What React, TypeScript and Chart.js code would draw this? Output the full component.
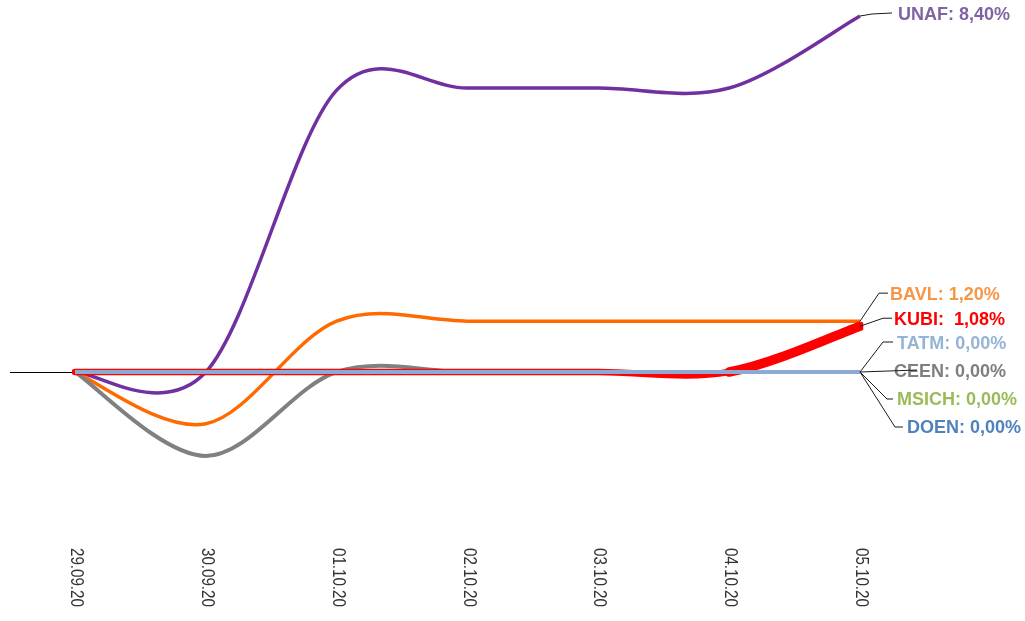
import React, { useEffect, useRef } from "react";
import { Chart, registerables } from "chart.js";

Chart.register(...registerables);

const categories = ["29.09.20", "30.09.20", "01.10.20", "02.10.20", "03.10.20", "04.10.20", "05.10.20"];

const seriesNames = ["UNAF", "BAVL", "KUBI", "TATM", "CEEN", "MSICH", "DOEN"];
const labelSeparators = [": ", ": ", ":  ", ": ", ": ", ": ", ": "];
const unaf = [0, 0, 6.65, 6.7, 6.7, 6.7, 8.4];
const bavl = [0, -1.22, 1.2, 1.2, 1.2, 1.2, 1.2];
const kubi = [0, 0, 0, 0, 0, 0, 1.08];
const tatm = [0, 0, 0, 0, 0, 0, 0];
const ceen = [0, -1.98, 0, 0, 0, 0, 0];
const msich = [0, 0, 0, 0, 0, 0, 0];
const doen = [0, 0, 0, 0, 0, 0, 0];

const seriesValues = [unaf, bavl, kubi, tatm, ceen, msich, doen];
const lineColors = ["#7030A0", "#FF6A00", "#FF0000", "#8EA9D4", "#808080", "#9BBB59", "#4F81BD"];
const labelColors = ["#8064A2", "#F79646", "#FF0000", "#95B3D7", "#7F7F7F", "#9BBB59", "#4F81BD"];
const lineWidths = [3.5, 3.5, 6.5, 4, 4, 4, 4];
const drawOrder = [5, 3, 1, 0, 2, 4, 4];

// label callout layout (pixel offsets from the series' last point)
const calloutPaths = [
  [[0, 0], [12, -2], [32, -3]],
  [[0, 0], [19, -28], [28, -28]],
  [[0, 0], [23, -8], [32, -8]],
  [[0, 0], [23, -30], [33, -30]],
  [[0, 0], [57, -2]],
  [[0, 0], [27, 27], [33, 27]],
  [[0, 0], [35, 55], [43, 55]],
];
const textOffsets = [
  [38, -2],
  [30, -28],
  [34, -8],
  [37, -29],
  [34, -1],
  [37, 27],
  [47, 54.5],
];

const fmt = (v: number) => v.toFixed(2).replace(".", ",") + "%";

// uniform Catmull-Rom smoothing of the library's own line elements
const splinePlugin = {
  id: "catmullRom",
  beforeDatasetsDraw(chart: any) {
    chart.data.datasets.forEach((_d: any, i: number) => {
      const meta = chart.getDatasetMeta(i);
      const pts = meta.data;
      const n = pts.length;
      for (let k = 0; k < n; k++) {
        const p = pts[k];
        const prev = pts[Math.max(0, k - 1)];
        const next = pts[Math.min(n - 1, k + 1)];
        const dx = (next.x - prev.x) / 6;
        const dy = (next.y - prev.y) / 6;
        p.cp1x = p.x - dx;
        p.cp1y = p.y - dy;
        p.cp2x = p.x + dx;
        p.cp2y = p.y + dy;
      }
      if (meta.dataset) {
        meta.dataset._pointsUpdated = true;
        meta.dataset._path = undefined;
      }
    });
  },
};

const overlayPlugin = {
  id: "overlay",
  beforeDatasetsDraw(chart: any) {
    const { ctx, chartArea, scales } = chart;
    const y0 = scales.y.getPixelForValue(0);
    ctx.save();
    ctx.strokeStyle = "#000";
    ctx.lineWidth = 1;
    ctx.beginPath();
    ctx.moveTo(10, Math.round(y0) + 0.5);
    ctx.lineTo(chartArea.left, Math.round(y0) + 0.5);
    ctx.stroke();
    ctx.restore();
  },
  afterDraw(chart: any) {
    const { ctx, scales } = chart;
    const xs = scales.x;
    const ys = scales.y;
    // x tick labels, rotated clockwise
    ctx.save();
    ctx.fillStyle = "#333333";
    ctx.font = '18px "Liberation Sans", Arial, sans-serif';
    ctx.textAlign = "left";
    ctx.textBaseline = "middle";
    categories.forEach((lab, i) => {
      const x = xs.getPixelForValue(i);
      ctx.save();
      ctx.translate(x + 1, 548);
      ctx.rotate(Math.PI / 2);
      ctx.scale(0.84, 1);
      ctx.fillText(lab, 0, 0);
      ctx.restore();
    });
    ctx.restore();

    // end labels with callouts
    const last = categories.length - 1;
    seriesNames.forEach((name, s) => {
      const vals = seriesValues[s];
      const px = xs.getPixelForValue(last);
      const py = ys.getPixelForValue(vals[last]);
      const text = `${name}${labelSeparators[s]}${fmt(vals[last])}`;
      const drawCallout = () => {
        ctx.save();
        ctx.strokeStyle = "#1a1a1a";
        ctx.lineWidth = 1;
        ctx.beginPath();
        calloutPaths[s].forEach(([dx, dy], k) => {
          if (k === 0) ctx.moveTo(px + dx, py + dy);
          else ctx.lineTo(px + dx, py + dy);
        });
        ctx.stroke();
        ctx.restore();
      };
      if (name !== "CEEN") drawCallout();
      ctx.save();
      ctx.font = 'bold 18px "Liberation Sans", Arial, sans-serif';
      ctx.fillStyle = labelColors[s];
      ctx.textAlign = "left";
      ctx.textBaseline = "alphabetic";
      ctx.fillText(text, px + textOffsets[s][0], py + textOffsets[s][1] + 6.4);
      ctx.restore();
      if (name === "CEEN") drawCallout();
    });
  },
};

export default function App() {
  const ref = useRef<HTMLCanvasElement | null>(null);
  useEffect(() => {
    if (!ref.current) return;
    const datasets = seriesNames.map((name, s) => ({
      label: name,
      data: seriesValues[s],
      borderColor: lineColors[s],
      backgroundColor: lineColors[s],
      borderWidth: lineWidths[s],
      pointRadius: 0,
      pointHoverRadius: 0,
      tension: 0.4,
      fill: false,
      order: drawOrder[s],
      borderCapStyle: name === "KUBI" ? "round" : "butt",
      borderJoinStyle: "round",
      segment:
        name === "KUBI"
          ? { borderWidth: (c: any) => (c.p1DataIndex === categories.length - 1 ? 9.5 : undefined) }
          : undefined,
    }));
    const chart = new Chart(ref.current, {
      type: "line",
      data: { labels: categories, datasets: datasets as any },
      options: {
        responsive: false,
        animation: false,
        devicePixelRatio: 1,
        layout: { padding: { left: 75, right: 165, top: 10, bottom: 101 } },
        plugins: { legend: { display: false }, tooltip: { enabled: false } },
        scales: {
          x: { display: false, offset: false },
          y: { display: false, min: -3.492, max: 8.5416 },
        },
      },
      plugins: [splinePlugin, overlayPlugin],
    });
    return () => chart.destroy();
  }, []);
  return (
    <div style={{ position: "absolute", left: 0, top: 0, width: 1025, height: 621, background: "#fff" }}>
      <canvas ref={ref} width={1025} height={621} style={{ display: "block" }} />
    </div>
  );
}
